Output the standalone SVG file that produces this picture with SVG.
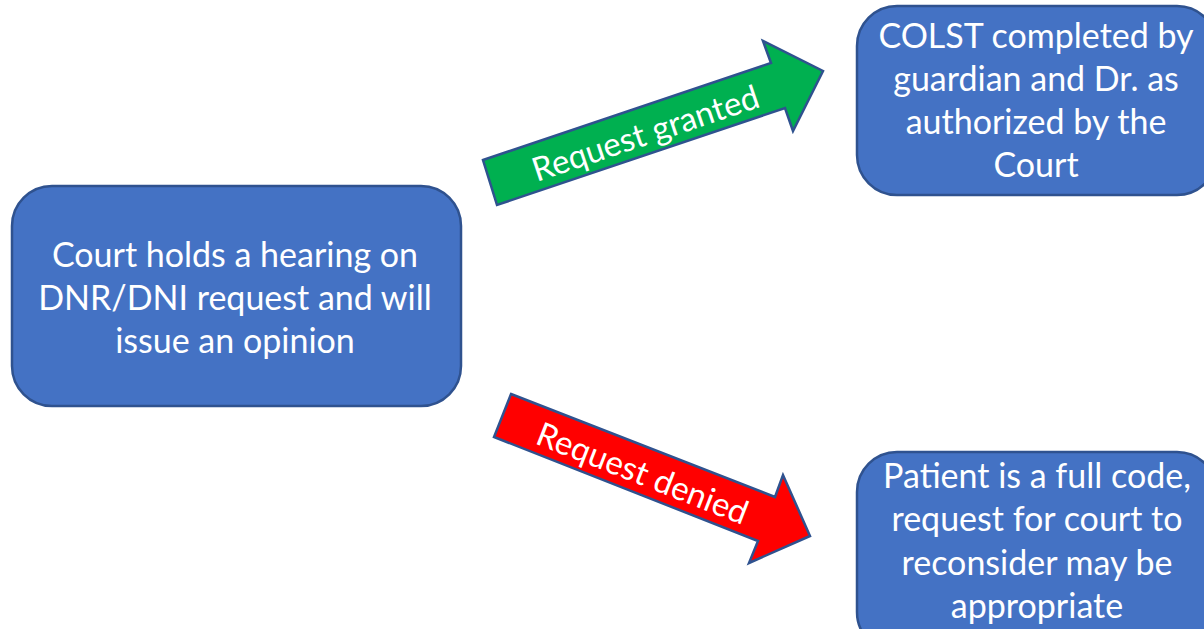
<svg xmlns="http://www.w3.org/2000/svg" width="1204" height="629" viewBox="0 0 1204 629">
<style>
.box{fill:#4472C4;stroke:#2F528F;stroke-width:2.5}
.arrow{stroke:#2F528F;stroke-width:2.5;stroke-linejoin:miter}
.t{font-family:Lato,"Open Sans","Liberation Sans",sans-serif;font-size:34px;fill:#FFFFFF;text-anchor:middle}
.at{font-family:Lato,"Open Sans","Liberation Sans",sans-serif;font-size:33px;fill:#FFFFFF;text-anchor:middle;dominant-baseline:central}
</style>
<rect width="1204" height="629" fill="#FFFFFF"/>
<g id="connectors">
<g id="granted">
<polygon class="arrow" fill="#00B050" points="483,160 771,63 763,41 823,71 793,131 785,108 497,205"/>
<text class="at" transform="translate(645,132) rotate(-18.6)">Request granted</text>
</g>
<g id="denied">
<polygon class="arrow" fill="#FF0000" points="511,394 775,497 783,475 810,536 749,563 758,541 494,437"/>
<text class="at" transform="translate(643,472) rotate(21.4)">Request denied</text>
</g>
</g>
<g id="hearing">
<rect class="box" x="12" y="186" width="449" height="220" rx="40" ry="40"/>
<text class="t" x="235" y="267">Court holds a hearing on</text>
<text class="t" x="235" y="310">DNR/DNI request and will</text>
<text class="t" x="235" y="353">issue an opinion</text>
</g>
<g id="colst">
<rect class="box" x="857" y="6" width="360" height="189" rx="40" ry="40"/>
<text class="t" x="1036" y="48">COLST completed by</text>
<text class="t" x="1036" y="91">guardian and Dr. as</text>
<text class="t" x="1036" y="134">authorized by the</text>
<text class="t" x="1036" y="177">Court</text>
</g>
<g id="fullcode">
<rect class="box" x="857" y="452" width="360" height="200" rx="40" ry="40"/>
<text class="t" x="1037" y="488">Patient is a full code,</text>
<text class="t" x="1037" y="531">request for court to</text>
<text class="t" x="1037" y="575">reconsider may be</text>
<text class="t" x="1037" y="618">appropriate</text>
</g>
</svg>
